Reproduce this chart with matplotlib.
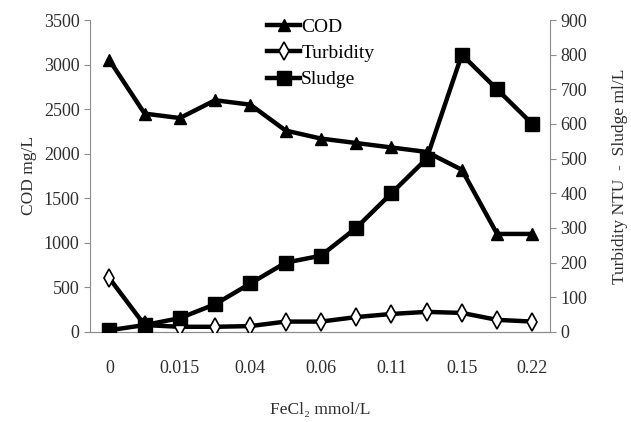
import numpy as np
import matplotlib.pyplot as plt

# dose categories (only every other one is labelled on the axis)
doses = ["0", "", "0.015", "", "0.04", "", "0.06", "", "0.11", "", "0.15", "", "0.22"]
cod = [3050, 2450, 2400, 2600, 2550, 2260, 2170, 2120, 2070, 2020, 1820, 1100, 1100]
turbidity = [155, 20, 15, 15, 17, 30, 30, 43, 52, 58, 55, 35, 30]
sludge = [5, 20, 40, 80, 140, 200, 220, 300, 400, 500, 800, 700, 600]

plt.rcParams['font.family'] = ['Liberation Serif', 'DejaVu Serif']
txt = '#2e2e2e'
grey = '#8c8c8c'

fig = plt.figure(figsize=(6.31, 4.22), dpi=100)
ax = fig.add_axes([0.1426, 0.2133, 0.729, 0.7393])
ax2 = ax.twinx()

x = np.arange(len(doses))
l1, = ax.plot(x, cod, color='black', lw=3.2, marker='^', ms=9, label='COD', zorder=3)
l2, = ax2.plot(x, turbidity, color='black', lw=3.2, marker='d', ms=9,
               mfc='white', mec='black', mew=1.2, label='Turbidity', zorder=3)
l3, = ax2.plot(x, sludge, color='black', lw=3.2, marker='s', ms=10, label='Sludge', zorder=4)

ax.set_xlim(-0.55, 12.5)
ax.set_ylim(0, 3500)
ax2.set_ylim(0, 900)
ax.set_yticks(np.arange(0, 3501, 500))
ax2.set_yticks(np.arange(0, 901, 100))
ax.set_xticks(x)
ax.set_xticklabels(doses)
ax.tick_params(axis='x', length=0, pad=20, labelsize=13, labelcolor=txt)
ax.tick_params(axis='y', length=4, color=grey, labelsize=13, labelcolor=txt)
ax2.tick_params(axis='y', length=4, color=grey, labelsize=13, labelcolor=txt)

for a in (ax, ax2):
    a.spines['top'].set_visible(False)
    for s in ('left', 'right', 'bottom'):
        a.spines[s].set_color(grey)
ax.spines['right'].set_visible(False)
ax2.spines['left'].set_visible(False)

ax.set_ylabel('COD mg/L', fontsize=12.5, color=txt, labelpad=5)
ax2.set_ylabel('Turbidity NTU  -  Sludge ml/L', fontsize=12.5, color=txt,
               rotation=90, labelpad=18)
ax.set_xlabel('FeCl₂ mmol/L', fontsize=12.5, color=txt, labelpad=18)

fig.legend(handles=[l1, l2, l3], loc='upper left', bbox_to_anchor=(0.405, 0.985),
           frameon=False, fontsize=14, handlelength=1.7, handletextpad=0.05,
           labelspacing=0.45, borderaxespad=0.2)

fig.savefig('out.png', dpi=100)
